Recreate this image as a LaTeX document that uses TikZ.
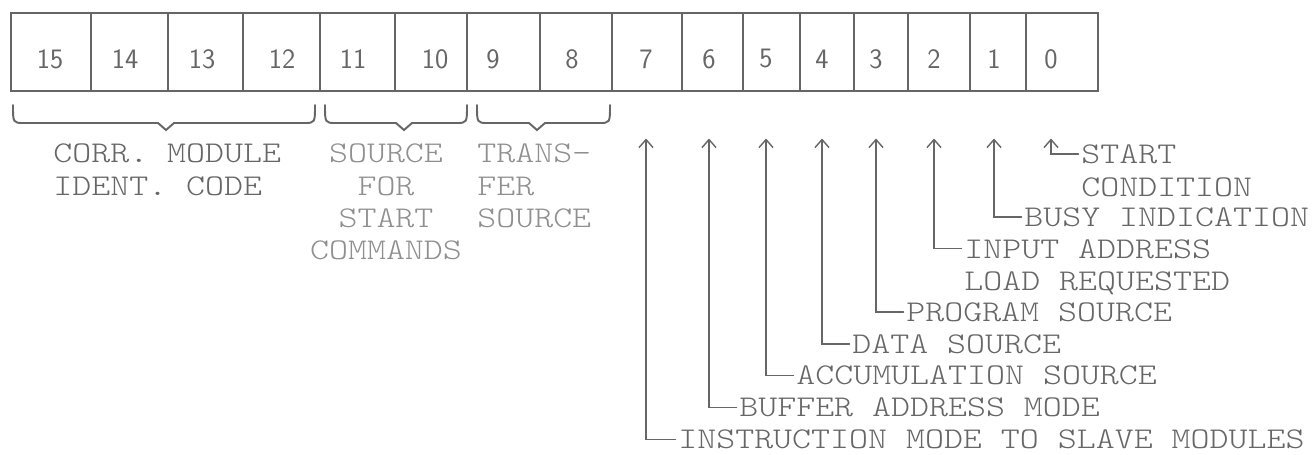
\documentclass[tikz,border=0pt]{standalone}
\usepackage{fontspec}
\setmonofont{lmmonolt10-regular.otf}[FakeStretch=1.2]
\usetikzlibrary{arrows.meta,positioning}
\definecolor{inkgray}{gray}{0.40}
\definecolor{fadegray}{gray}{0.56}

\begin{document}
\begin{tikzpicture}[>={Straight Barb[length=1.6mm,width=2.8mm]},line cap=round]
        \useasboundingbox (0,0) rectangle (26.24,9.08);

        \def \bracepath#1#2#3{ (#1,6.98) .. controls (#1,6.62) .. (#1+0.22,6.62) -- (#2-0.16,6.62) -- (#2,6.48) -- (#2+0.16,6.62) -- (#3-0.22,6.62) .. controls (#3,6.62) .. (#3,6.98) }
        \tikzstyle{digit}=[font=\fontsize{16}{16}\sffamily, text=inkgray, inner sep=0pt]
        \tikzstyle{lbl}=[font=\fontsize{17.14}{18.33}\ttfamily, text=inkgray, inner sep=0.05cm, align=left]
        \tikzstyle{fld}=[lbl, text=fadegray]

        % register cells
        \begin{scope}[line width=1.1pt, color=inkgray]
        \foreach \bit/\xa/\xb/\xd in {15/0.22/1.82/1.00, 14/1.82/3.36/2.50, 13/3.36/4.86/4.04, 12/4.86/6.40/5.64,
                11/6.40/7.90/7.06, 10/7.90/9.34/8.70, 9/9.34/10.80/9.86, 8/10.80/12.24/11.44,
                7/12.24/13.64/12.92, 6/13.64/14.86/14.18, 5/14.86/16.00/15.32, 4/16.00/17.08/16.44,
                3/17.08/18.16/17.52, 2/18.16/19.40/18.68, 1/19.40/20.52/19.88, 0/20.52/21.96/21.02}
          {\draw (\xa,7.26) rectangle (\xb,8.82); \node (d\bit) [digit] at (\xd,7.90) {\bit};}
        \end{scope}

        % field braces
        \begin{scope}[line width=1.1pt, color=inkgray]
        \draw \bracepath{0.26}{3.32}{6.30}; %
        \draw \bracepath{6.50}{8.08}{9.34}; %
        \draw \bracepath{9.54}{10.74}{12.20}; %
        \end{scope}

        \node (f1) [lbl, anchor=north west] at (1.01,6.254) {CORR. MODULE\\IDENT. CODE};
        \node (f2) [fld, anchor=north, align=center] at (7.72,6.254) {SOURCE\\FOR\\START\\COMMANDS};
        \node (f3) [fld, anchor=north west] at (9.49,6.254) {TRANS-\\FER\\SOURCE};

        % single bits
        \coordinate (tips) at (0,6.31);
        \node (l0) [lbl, anchor=north west] at (21.57,6.234) {START\\CONDITION};
        \node (l1) [lbl, anchor=west] at (20.43,4.738) {BUSY INDICATION};
        \node (l2) [lbl, anchor=north west] at (19.23,4.346) {INPUT ADDRESS\\LOAD REQUESTED};
        \node (l3) [lbl, anchor=west] at (18.07,2.84) {PROGRAM SOURCE};
        \node (l4) [lbl, anchor=west] at (16.99,2.204) {DATA SOURCE};
        \node (l5) [lbl, anchor=west] at (15.87,1.568) {ACCUMULATION SOURCE};
        \node (l6) [lbl, anchor=west] at (14.73,0.932) {BUFFER ADDRESS MODE};
        \node (l7) [lbl, anchor=west] at (13.51,0.296) {INSTRUCTION MODE TO SLAVE MODULES};

        \begin{scope}[line width=0.8pt, color=inkgray]
        \draw[->] ([yshift=-0.234cm]l0.north west) -| (d0 |- tips); %
        \draw[->] (l1.west) -| (d1 |- tips); %
        \draw[->] ([yshift=-0.234cm]l2.north west) -| (d2 |- tips); %
        \draw[->] (l3.west) -| (d3 |- tips); %
        \draw[->] (l4.west) -| (d4 |- tips); %
        \draw[->] (l5.west) -| (d5 |- tips); %
        \draw[->] (l6.west) -| (d6 |- tips); %
        \draw[->] (l7.west) -| (d7 |- tips); %
        \end{scope}
\end{tikzpicture}
\end{document}
